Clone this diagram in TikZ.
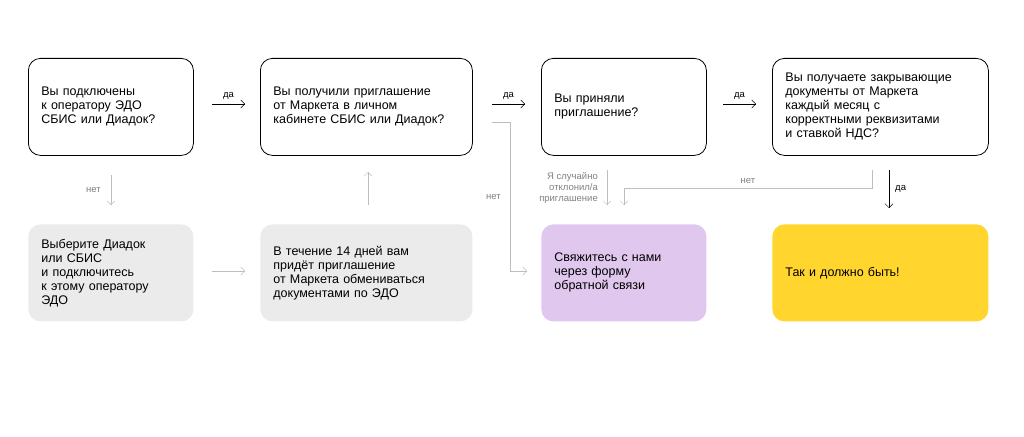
\documentclass[tikz,border=0pt]{standalone}
\usepackage{fontspec}
\setmainfont{Liberation Sans}
\usetikzlibrary{positioning,arrows.meta}
\definecolor{boxgray}{HTML}{EBEBEB}
\definecolor{lilac}{HTML}{E0C7EE}
\definecolor{sun}{HTML}{FFD52E}
\definecolor{lightline}{HTML}{BDBDBD}
\begin{document}
\begin{tikzpicture}[x=1pt,y=-1pt,
    question/.style ={draw, thick, rounded corners=12pt, minimum height=97pt, align=left, text width=#1, inner xsep=13pt, anchor=north west, font=\fontsize{12.5}{14}\selectfont},
    answer/.style ={question=#1, draw=none},
    yes/.style ={-{Straight Barb[length=4pt]}, thin, black},
    no/.style ={-{Straight Barb[length=4pt]}, thin, lightline},
    lbl/.style ={font=\fontsize{9.5}{11}\selectfont, inner sep=1pt}]
   \useasboundingbox (0,0) rectangle (1024,436);
   \node[question=139pt] (A) at (28,58) {Вы подключены\\к оператору ЭДО\\СБИС или Диадок?};
   \node[question=186pt] (B) at (260,58) {Вы получили приглашение\\от Маркета в личном\\кабинете СБИС или Диадок?};
   \node[question=139pt] (C) at (541,58) {Вы приняли\\приглашение?};
   \node[question=190pt] (D) at (772,58) {Вы получаете закрывающие\\документы от Маркета\\каждый месяц с\\корректными реквизитами\\и ставкой НДС?};

   \node[answer=139pt, fill=boxgray] (E) at (28,224) {Выберите Диадок\\или СБИС\\и подключитесь\\к этому оператору\\ЭДО};
   \node[answer=186pt, fill=boxgray] (F) at (260,224) {В течение 14 дней вам\\придёт приглашение\\от Маркета обмениваться\\документами по ЭДО};
   \node[answer=139pt, fill=lilac] (G) at (541,224) {Свяжитесь с нами\\через форму\\обратной связи};
   \node[answer=190pt, fill=sun] (H) at (772,224) {Так и должно быть!};

   % yes
   \draw[yes] (212,104) -- node[lbl, above=3pt, black] {да} (245,104);
   \draw[yes] (492,104) -- node[lbl, above=3pt, black] {да} (525,104);
   \draw[yes] (723,104) -- node[lbl, above=3pt, black] {да} (756,104);
   \draw[yes] (889,170) -- node[lbl, right=5pt, black] {да} (889,208);

   % no
   \draw[no] (111,175) -- node[lbl, left=9pt, gray] {нет} (111,205);
   \draw[no] (212,271) -- (245,271);
   \draw[no] (368,205) -- (368,172);
   \draw[no] (492,122) -- (510,122) -- node[lbl, left=8pt, pos=0.5, gray] {нет} (510,271) -- (527,271);
   \draw[no] (607,170) -- (607,205);
   \node[lbl, gray, align=right, anchor=east] (T) at (599,188) {Я случайно\\отклонил/а\\приглашение};
   \draw[no] (872,170) -- (872,188) -- node[lbl, above=3pt, gray] {нет} (624,188) -- (624,205);
\end{tikzpicture}
\end{document}
